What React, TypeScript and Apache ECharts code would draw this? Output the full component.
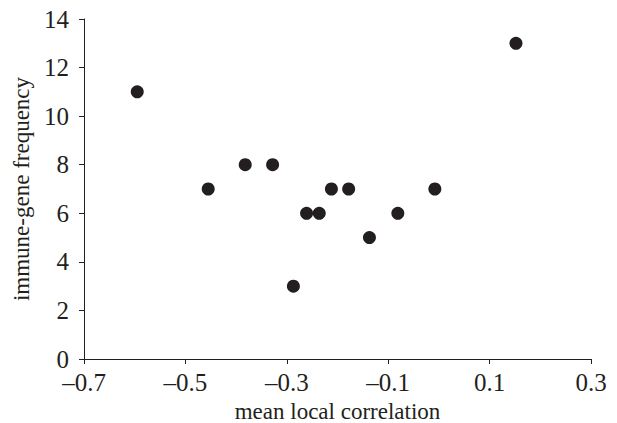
import React, { useEffect, useRef } from "react";
import * as echarts from "echarts";

const xValues = [-0.595, -0.455, -0.382, -0.328, -0.287, -0.261, -0.236, -0.212, -0.178, -0.137, -0.081, -0.008, 0.152];
const yValues = [11, 7, 8, 8, 3, 6, 6, 7, 7, 5, 6, 7, 13];
const xTickMin = -0.7;
const xTickMax = 0.3;
const xTickStep = 0.2;
const yTickMin = 0;
const yTickMax = 14;
const yTickStep = 2;

const ink = "#231f20";
const font = "Liberation Serif";

export default function App() {
  const ref = useRef<HTMLDivElement>(null);
  useEffect(() => {
    if (!ref.current) return;
    const chart = echarts.init(ref.current, undefined, { renderer: "svg" });
    chart.setOption({
      animation: false,
      backgroundColor: "#ffffff",
      textStyle: { fontFamily: font, color: ink },
      grid: {
        left: 84,
        right: 26,
        top: 19,
        bottom: 64,
        containLabel: false,
        outerBoundsMode: "none",
      },
      xAxis: {
        type: "value",
        min: xTickMin,
        max: xTickMax,
        interval: xTickStep,
        name: "mean local correlation",
        nameLocation: "middle",
        nameGap: 39,
        nameTextStyle: { fontFamily: font, fontSize: 23, color: ink },
        axisLine: { show: true, onZero: false, lineStyle: { color: ink, width: 1 } },
        axisTick: { show: true, inside: false, length: 5, lineStyle: { color: ink } },
        splitLine: { show: false },
        axisLabel: {
          fontFamily: font,
          fontSize: 25,
          color: ink,
          margin: 11,
          formatter: (v: number) => {
            const s = Math.abs(v).toFixed(1);
            return v < -1e-9 ? "\u2013" + s : s;
          },
        },
      },
      yAxis: {
        type: "value",
        min: yTickMin,
        max: yTickMax,
        interval: yTickStep,
        name: "immune-gene frequency",
        nameLocation: "middle",
        nameGap: 49,
        nameTextStyle: { fontFamily: font, fontSize: 23, color: ink },
        axisLine: { show: true, onZero: false, lineStyle: { color: ink, width: 1 } },
        axisTick: { show: true, inside: false, length: 5, lineStyle: { color: ink } },
        splitLine: { show: false },
        axisLabel: { fontFamily: font, fontSize: 25, color: ink, margin: 15 },
      },
      series: [
        {
          type: "scatter",
          symbol: "circle",
          symbolSize: 13,
          itemStyle: { color: ink, opacity: 1 },
          data: xValues.map((x, i) => [x, yValues[i]]),
        },
      ],
    });
    return () => chart.dispose();
  }, []);
  return (
    <div
      ref={ref}
      style={{ position: "fixed", left: 0, top: 0, width: 617, height: 423 }}
    />
  );
}
